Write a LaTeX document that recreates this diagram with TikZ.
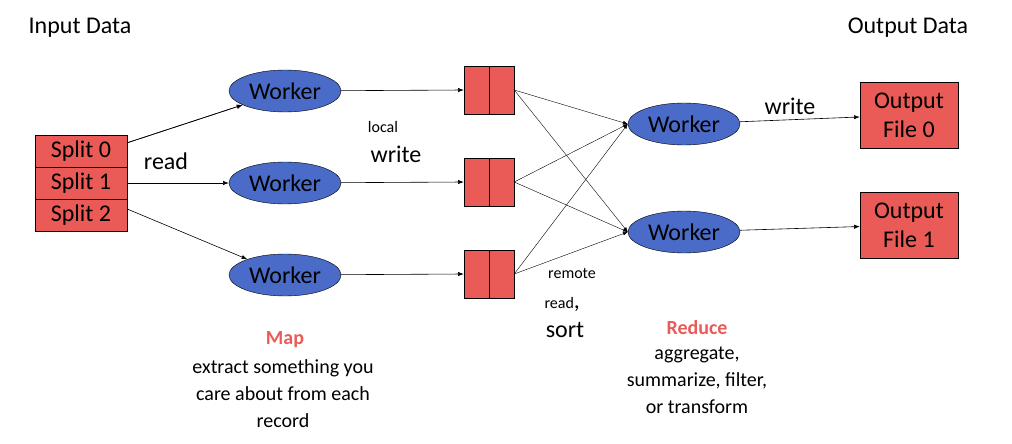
\documentclass[tikz,border=0pt]{standalone}
\usepackage{fontspec}
\setmainfont{Carlito}
\usetikzlibrary{shapes.geometric,arrows.meta}
\definecolor{splitred}{HTML}{EA5B57}
\definecolor{workerblue}{HTML}{4A6CC8}
\tikzset{>=Latex}
\begin{document}
\begin{tikzpicture}[x=1pt,y=-1pt]
	\tikzstyle{split} = [draw=black, fill=splitred, minimum width=92pt, minimum height=32pt, inner sep=0pt, font=\fontsize{24}{26}\selectfont]
	\tikzstyle{worker} = [ellipse, draw=black, fill=workerblue, minimum width=112pt, minimum height=42pt, inner sep=0pt, font=\fontsize{24}{26}\selectfont]
	\tikzstyle{cell} = [draw=black, fill=splitred, minimum width=25pt, minimum height=48pt, inner sep=0pt]
	\tikzstyle{outfile} = [draw=black, fill=splitred, minimum width=98pt, minimum height=66pt, inner sep=0pt, align=center, font=\fontsize{24}{29}\selectfont]
	\tikzstyle{big} = [font=\fontsize{24}{26}\selectfont]
	\tikzstyle{small} = [font=\fontsize{16}{18}\selectfont]
	\tikzstyle{edge} = [->, semithick]
	\useasboundingbox (0,0) rectangle (1012,444);

%----------input------------------------------
	\node[big] (in) at (80,28) {Input Data};
	\node[split] (s0) at (81,151) {Split 0};
	\node[split] (s1) at (81,183) {Split 1};
	\node[split] (s2) at (81,215) {Split 2};

%----------map------------------------------
	\node[worker] (m1) at (285,91) {Worker};
	\node[worker] (m2) at (285,183) {Worker};
	\node[worker] (m3) at (285,275) {Worker};

	\draw[edge] (s0.north east) ++(0,8) coordinate (a0) -- (m1);
	\draw[edge] (s1) -- (m2);
	\draw[edge] (s2.east) ++(0,-6) coordinate (a2) -- (m3);
	\draw[edge] (s0.north east) ++(0,8) -- (m1);
	\node[big] (rd) at (166,161) {read};

%----------buffers------------------------------
	\foreach \i/\y in {1/90,2/182,3/274} {
		\node[cell] (b\i l) at (476.5,\y) {};
		\node[cell] (b\i r) at (501.5,\y) {};
		\draw[edge] (m\i) -- (b\i l.west);
	}
	\node[small] (lc) at (383,127) {local};
	\node[big] (lw) at (396,154) {write};

%----------reduce------------------------------
	\node[worker] (r1) at (684,124) {Worker};
	\node[worker] (r2) at (684,232) {Worker};
	\foreach \i in {1,2,3} {
		\draw[edge, thin] (b\i r.east) -- (r1.west);
		\draw[edge, thin] (b\i r.east) -- (r2.west);
	}
	\node[small] (rm) at (572,273) {remote};
	\node[anchor=base west] (rr) at (541,308) {\fontsize{16}{18}\selectfont read\fontsize{24}{26}\selectfont,};
	\node[big] (so) at (565,330) {sort};

%----------output------------------------------
	\node[big] (out) at (908,28) {Output Data};
	\node[outfile] (o0) at (909,115) {Output\\File 0};
	\node[outfile] (o1) at (909,225) {Output\\File 1};
	\draw[edge] (r1) -- (o0);
	\draw[edge] (r2) -- (o1);
	\node[big] (wr) at (790,106) {write};

%----------captions------------------------------
	\node[font=\fontsize{20}{22}\selectfont\bfseries, text=splitred] (map) at (285,340) {Map};
	\node[font=\fontsize{20}{27}\selectfont, align=center, anchor=north] (mapt) at (283,356) {extract something you\\care about from each\\record};
	\node[font=\fontsize{20}{22}\selectfont\bfseries, text=splitred] (red) at (697,328) {Reduce};
	\node[font=\fontsize{20}{27}\selectfont, align=center, anchor=north] (redt) at (697,343) {aggregate,\\summarize, filter,\\or transform};
\end{tikzpicture}
\end{document}
